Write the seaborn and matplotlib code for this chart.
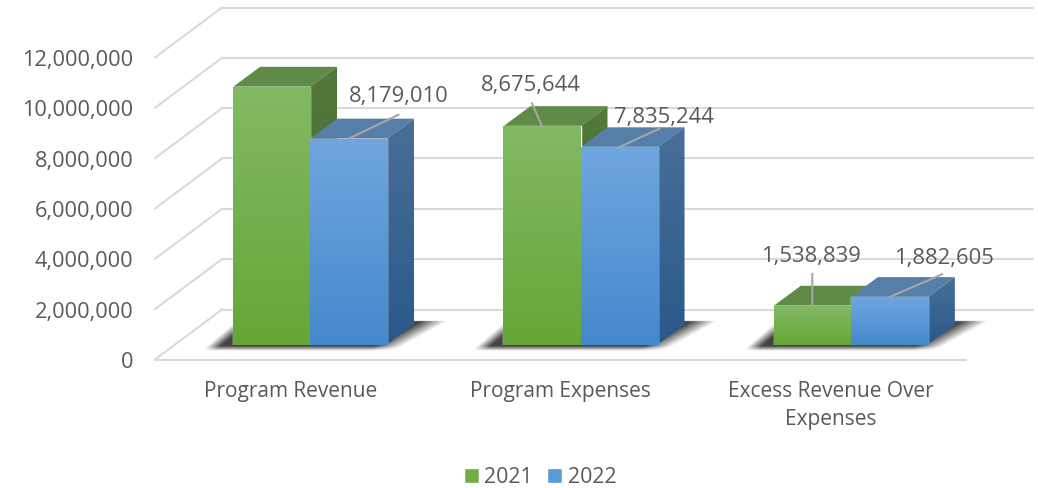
import numpy as np
import pandas as pd
import matplotlib
matplotlib.use("Agg")
import matplotlib.pyplot as plt
import seaborn as sns
from matplotlib.colors import LinearSegmentedColormap
from matplotlib.patches import Polygon
from matplotlib.transforms import Affine2D

categories = ["Program Revenue", "Program Expenses", "Excess Revenue Over\nExpenses"]
years = ["2021", "2022"]
values_2021 = [10240000, 8675644, 1538839]
values_2022 = [8179010, 7835244, 1882605]
# first bar of 2021 has no label in the original
labels_2021 = [None, "8,675,644", "1,538,839"]
labels_2022 = ["8,179,010", "7,835,244", "1,882,605"]
y_ticks = [0, 2000000, 4000000, 6000000, 8000000, 10000000, 12000000]

W, H = 1038, 489
BASE, TOP = 345.5, 43.5
PX_X = 3 / (986 - 175)          # data units per pixel
PX_Y = 12000000 / (BASE - TOP)
DEPTH_X, DEPTH_Y = 27 * PX_X, 20 * PX_Y
FLOOR_X, FLOOR_Y = 20 * PX_X, 15 * PX_Y

df = pd.DataFrame({
    "category": categories * 2,
    "year": [years[0]] * 3 + [years[1]] * 3,
    "value": values_2021 + values_2022,
})

sns.set_theme(style="white")
plt.rcParams["font.family"] = ["Open Sans", "DejaVu Sans"]
TXT = "#595959"
GRID = "#d9d9d9"

fig = plt.figure(figsize=(W / 100, H / 100), dpi=100)
ax = fig.add_axes([175 / W, (H - BASE) / H, (986 - 175) / W, (BASE - TOP) / H])
sns.barplot(data=df, x="category", y="value", hue="year", palette=["#70ad47", "#5b9bd5"],
            width=0.57, gap=0, saturation=1, errorbar=None, ax=ax, zorder=5)
xlim = (-0.5, 2.5)
ylim = (0, 12000000)
sns.despine(ax=ax, left=True, bottom=True)
ax.set_xlabel("")
ax.set_ylabel("")


def grad(x0, x1, y0, y1, top, bottom, clip, z):
    cm = LinearSegmentedColormap.from_list("g", [top, bottom])
    im = ax.imshow(np.linspace(0, 1, 128)[:, None], cmap=cm, aspect="auto", origin="upper",
                   extent=(x0, x1, y0, y1), zorder=z, interpolation="bilinear")
    im.set_clip_path(clip)
    return im


def edge_alpha(u, v, a, b, soft):
    # 0 outside the edge a->b, up to 1 once soft pixels inside it
    ex, ey = b[0] - a[0], b[1] - a[1]
    d = (ex * (v - a[1]) - ey * (u - a[0])) / np.hypot(ex, ey)
    return np.clip(d / soft, 0, 1)


# walls and floor
x_l = xlim[0] - FLOOR_X
x_r = xlim[1] - FLOOR_X
back_x = 67 * PX_X
back_y = 50 * PX_Y
for t in y_ticks:
    yf = t - FLOOR_Y
    ax.plot([x_l, x_l + back_x], [yf, yf + back_y], color=GRID, lw=1.5, clip_on=False, zorder=1)
    ax.plot([x_l + back_x, x_r + back_x], [yf + back_y, yf + back_y], color=GRID, lw=1.5, clip_on=False, zorder=1)
ax.plot([x_l, x_r], [-FLOOR_Y, -FLOOR_Y], color=GRID, lw=1.5, clip_on=False, zorder=1)

bars_a = list(ax.containers[0])
bars_b = list(ax.containers[1])

# soft shadow under each group, worked out in pixels from the left front corner
for a, b in zip(bars_a, bars_b):
    left = a.get_x()
    right = b.get_x() + b.get_width()
    w = (right - left) / PX_X
    u, v = np.meshgrid(np.linspace(-45, w + 70, 300), np.linspace(30, -10, 80))
    alpha = edge_alpha(u, v, (-32, -6), (w + 6, -6), 5) * edge_alpha(u, v, (-2, 20), (-32, -6), 9) \
        * edge_alpha(u, v, (w + 6, -6), (w + 60, 24), 13)
    rgba = np.zeros((80, 300, 4))
    rgba[..., :3] = 0.2
    rgba[..., 3] = 0.92 * alpha * (v < 24)
    im = ax.imshow(rgba, aspect="auto", origin="upper", zorder=2, interpolation="bilinear",
                   extent=(left - 45 * PX_X, right + 70 * PX_X, -10 * PX_Y, 30 * PX_Y))
    im.set_clip_box(fig.bbox)

# 3d faces
styles = [
    (bars_a, "#82b964", "#66a636", "#5f8a48", "#53793c", "#3e6b28", 3),
    (bars_b, "#70a6df", "#4489cc", "#557ea8", "#486f97", "#29598a", 4),
]
for bars, c_top, c_bot, c_lid, s_top, s_bot, z in styles:
    for p in bars:
        x0 = p.get_x()
        x1 = x0 + p.get_width()
        h = p.get_height()
        lid = Polygon([(x0, h), (x1, h), (x1 + DEPTH_X, h + DEPTH_Y), (x0 + DEPTH_X, h + DEPTH_Y)],
                      closed=True, fc=c_lid, ec="none", zorder=z, clip_on=False)
        ax.add_patch(lid)
        side = Polygon([(x1, 0), (x1 + DEPTH_X, DEPTH_Y), (x1 + DEPTH_X, h + DEPTH_Y), (x1, h)],
                       closed=True, fc="none", ec="none", zorder=z)
        ax.add_patch(side)
        grad(x1, x1 + DEPTH_X, 0, h + DEPTH_Y, s_top, s_bot, side, z)
        grad(x0, x1, 0, h, c_top, c_bot, p, 6)

# data labels with leader lines: (line end dx, dy, text dx, dy) in pixels from the bar top
offs_a = [None, (-10, 23, -11, 42), (0, 32, -1, 50)]
offs_b = [(50, 24, 50, 43), (41, 19, 45, 31), (53, 23, 55, 40)]
for bars, labels, offs in [(bars_a, labels_2021, offs_a), (bars_b, labels_2022, offs_b)]:
    for p, lab, o in zip(bars, labels, offs):
        if lab is None:
            continue
        xy = (p.get_x() + p.get_width() / 2, p.get_height())
        ax.annotate("", xy=xy, xytext=(o[0], o[1]), textcoords="offset pixels", zorder=8,
                    arrowprops=dict(arrowstyle="-", color="#a6a6a6", lw=1.5, shrinkA=0, shrinkB=0))
        ax.annotate(lab, xy=xy, xytext=(o[2], o[3]), textcoords="offset pixels", ha="center", va="center",
                    fontsize=15.8, color=TXT, zorder=9)

ax.set_xlim(xlim)
ax.set_ylim(ylim)
ax.set_yticks(y_ticks)
ax.set_yticklabels([f"{t:,}" for t in y_ticks])
ax.tick_params(axis="y", length=0, pad=30, labelsize=15.7, labelcolor=TXT)
ax.tick_params(axis="x", length=0, pad=14.5, labelsize=15, labelcolor=TXT)
for lab in ax.get_yticklabels():
    lab.set_transform(lab.get_transform() + Affine2D().translate(0, -14.5))
for lab in ax.get_xticklabels():
    lab.set_transform(lab.get_transform() + Affine2D().translate(-20, -15))
    lab.set_linespacing(1.45)

sns.move_legend(ax, "center", bbox_to_anchor=(540 / W, (H - 478) / H), bbox_transform=fig.transFigure,
                ncol=2, frameon=False, title=None, fontsize=15.3, labelcolor=TXT,
                handlelength=0.7, handleheight=0.7, handletextpad=0.25, columnspacing=0.7)

fig.savefig("out.png", dpi=100)
